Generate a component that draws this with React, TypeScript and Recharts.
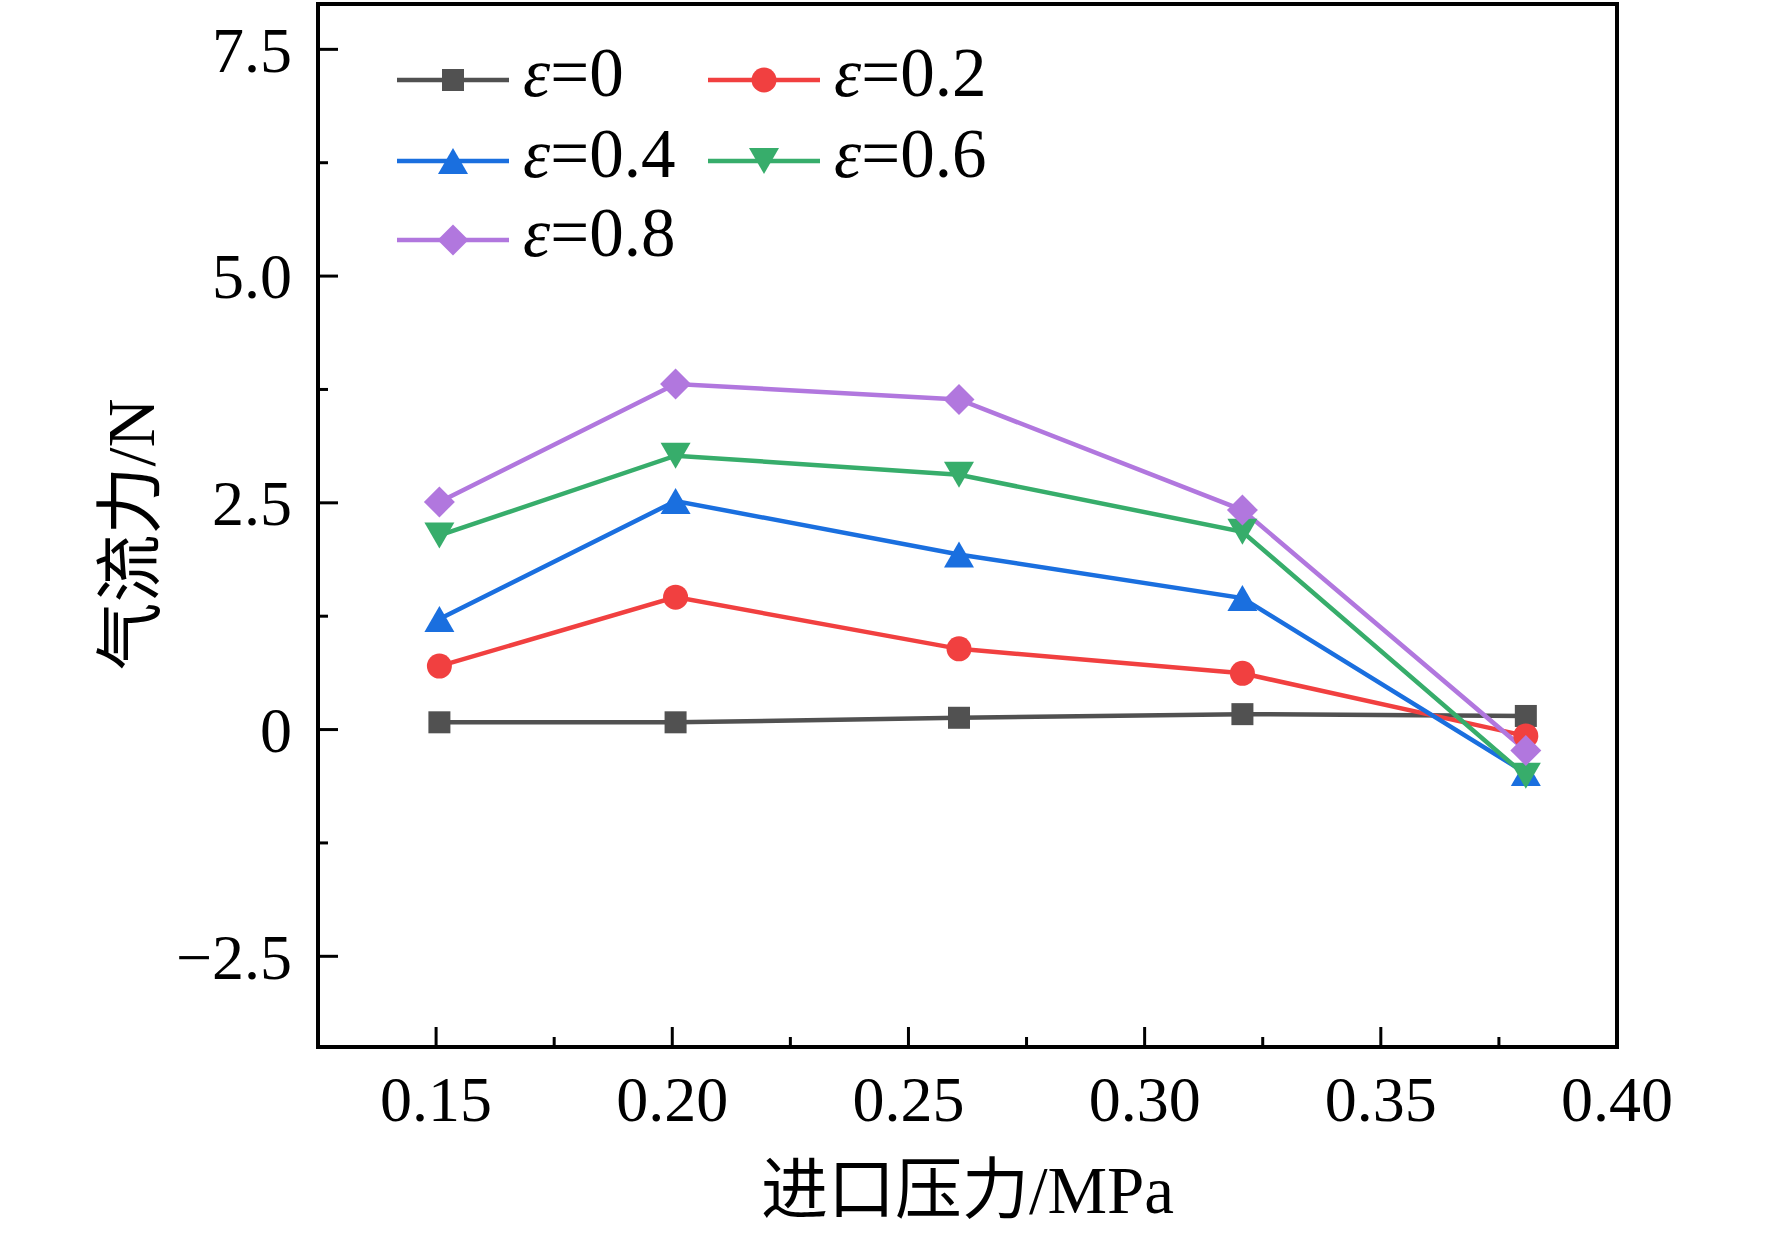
import React from 'react';
import { LineChart, Line, XAxis, YAxis, ReferenceArea, Label, Legend } from 'recharts';

// inlet pressure (MPa)
const pressures = [0.1507, 0.2007, 0.2607, 0.3207, 0.3807];
// airflow force (N) per eccentricity
const eps0 = [0.08, 0.08, 0.13, 0.17, 0.15];
const eps02 = [0.7, 1.46, 0.89, 0.62, -0.07];
const eps04 = [1.22, 2.52, 1.93, 1.45, -0.48];
const eps06 = [2.14, 3.02, 2.81, 2.18, -0.51];
const eps08 = [2.51, 3.81, 3.64, 2.42, -0.23];

const epsLabels = ['0', '0.2', '0.4', '0.6', '0.8'];

const xTicks = [0.15, 0.175, 0.2, 0.225, 0.25, 0.275, 0.3, 0.325, 0.35, 0.375, 0.4];
const xTickLabels = ['0.15', '', '0.20', '', '0.25', '', '0.30', '', '0.35', '', '0.40'];
const yTicks = [-2.5, -1.25, 0, 1.25, 2.5, 3.75, 5, 6.25, 7.5];
const yTickLabels = ['\u22122.5', '', '0', '', '2.5', '', '5.0', '', '7.5'];

const FONT = "'Liberation Serif', 'Times New Roman', 'Noto Sans CJK SC', serif";
const TICK_GAP = 26;

const series = [
  { key: 'e0', values: eps0, color: '#515151', shape: 'square' },
  { key: 'e2', values: eps02, color: '#F14040', shape: 'circle' },
  { key: 'e4', values: eps04, color: '#1A6FDF', shape: 'up' },
  { key: 'e6', values: eps06, color: '#37AD6B', shape: 'down' },
  { key: 'e8', values: eps08, color: '#B177DE', shape: 'diamond' },
];

const data = pressures.map((x, i) => {
  const row: Record<string, number> = { x };
  series.forEach((s) => {
    row[s.key] = s.values[i];
  });
  return row;
});

function Marker({ shape, cx, cy, color }: { shape: string; cx: number; cy: number; color: string }) {
  if (cx == null || cy == null) return null;
  switch (shape) {
    case 'square':
      return <rect x={cx - 11} y={cy - 11} width={22} height={22} fill={color} />;
    case 'circle':
      return <circle cx={cx} cy={cy} r={12.5} fill={color} />;
    case 'up':
      return <polygon points={`${cx},${cy - 13} ${cx + 15},${cy + 13} ${cx - 15},${cy + 13}`} fill={color} />;
    case 'down':
      return <polygon points={`${cx},${cy + 13} ${cx + 15},${cy - 13} ${cx - 15},${cy - 13}`} fill={color} />;
    default:
      return <polygon points={`${cx},${cy - 15.5} ${cx + 15.5},${cy} ${cx},${cy + 15.5} ${cx - 15.5},${cy}`} fill={color} />;
  }
}

function findIndex(list: number[], v: number) {
  return list.findIndex((t) => Math.abs(t - v) < 1e-9);
}

function YTick(props: any) {
  const { x, y, payload } = props;
  const label = yTickLabels[findIndex(yTicks, payload.value)];
  const axisX = x + TICK_GAP;
  const len = label ? 20 : 10;
  return (
    <g>
      <line x1={axisX} x2={axisX + len} y1={y} y2={y} stroke="#000" strokeWidth={3} />
      {label ? (
        <text x={x} y={y} dy="0.35em" textAnchor="end" fontFamily={FONT} fontSize={64} fill="#000">
          {label}
        </text>
      ) : null}
    </g>
  );
}

function XTick(props: any) {
  const { x, y, payload } = props;
  const label = xTickLabels[findIndex(xTicks, payload.value)];
  const axisY = y - TICK_GAP;
  const len = label ? 20 : 10;
  return (
    <g>
      <line x1={x} x2={x} y1={axisY} y2={axisY - len} stroke="#000" strokeWidth={3} />
      {label ? (
        <text x={x} y={axisY + 74} textAnchor="middle" fontFamily={FONT} fontSize={64} fill="#000">
          {label}
        </text>
      ) : null}
    </g>
  );
}

function XTitle(props: any) {
  const { viewBox } = props;
  return (
    <text x={viewBox.x + viewBox.width / 2} y={viewBox.y + 166} textAnchor="middle" fontFamily={FONT} fontSize={67} fill="#000">
      进口压力/MPa
    </text>
  );
}

function YTitle(props: any) {
  const { viewBox } = props;
  const x = viewBox.x + 154;
  const y = viewBox.y + viewBox.height / 2 + 9;
  return (
    <text x={x} y={y} transform={`rotate(-90, ${x}, ${y})`} textAnchor="middle" fontFamily={FONT} fontSize={68} fill="#000">
      气流力/N
    </text>
  );
}

const legendCols = [397, 708];
const legendRows = [80, 161, 240];

function LegendBox() {
  return (
    <svg width={1772} height={1233} style={{ display: 'block' }}>
      {series.map((s, i) => {
        const lx = legendCols[i % 2];
        const ly = legendRows[Math.floor(i / 2)];
        return (
          <g key={s.key}>
            <line x1={lx} x2={lx + 112} y1={ly} y2={ly} stroke={s.color} strokeWidth={4.5} />
            <Marker shape={s.shape} cx={lx + 56} cy={ly} color={s.color} />
            <text x={lx + 126} y={ly + 16} fontFamily={FONT} fontSize={69} fill="#000">
              <tspan fontStyle="italic">ε</tspan>={epsLabels[i]}
            </text>
          </g>
        );
      })}
    </svg>
  );
}

export default function App() {
  return (
    <div style={{ position: 'absolute', left: 0, top: 0, width: 1772, height: 1233, background: '#fff' }}>
      <LineChart width={1772} height={1233} data={data} margin={{ top: 4, right: 155, bottom: 0, left: 0 }}>
        <XAxis
          dataKey="x"
          type="number"
          domain={[0.125, 0.4]}
          ticks={xTicks}
          interval={0}
          height={186}
          tickSize={0}
          tickMargin={TICK_GAP}
          axisLine={false}
          tick={<XTick />}
          allowDataOverflow
        >
          <Label content={<XTitle />} />
        </XAxis>
        <YAxis
          type="number"
          domain={[-3.5, 8]}
          ticks={yTicks}
          interval={0}
          width={318}
          tickSize={0}
          tickMargin={TICK_GAP}
          axisLine={false}
          tick={<YTick />}
          allowDataOverflow
        >
          <Label content={<YTitle />} />
        </YAxis>
        <ReferenceArea x1={0.125} x2={0.4} y1={-3.5} y2={8} fill="none" stroke="#000" strokeWidth={4} />
        {series.map((s) => (
          <Line
            key={s.key}
            dataKey={s.key}
            type="linear"
            stroke={s.color}
            strokeWidth={4.5}
            isAnimationActive={false}
            activeDot={false}
            dot={(p: any) => <Marker key={`${s.key}-${p.index}`} shape={s.shape} cx={p.cx} cy={p.cy} color={s.color} />}
          />
        ))}
        <Legend
          layout="vertical"
          align="center"
          verticalAlign="middle"
          content={() => <LegendBox />}
          wrapperStyle={{ position: 'absolute', left: 0, top: 0, width: 1772, height: 1233, pointerEvents: 'none' }}
        />
      </LineChart>
    </div>
  );
}
